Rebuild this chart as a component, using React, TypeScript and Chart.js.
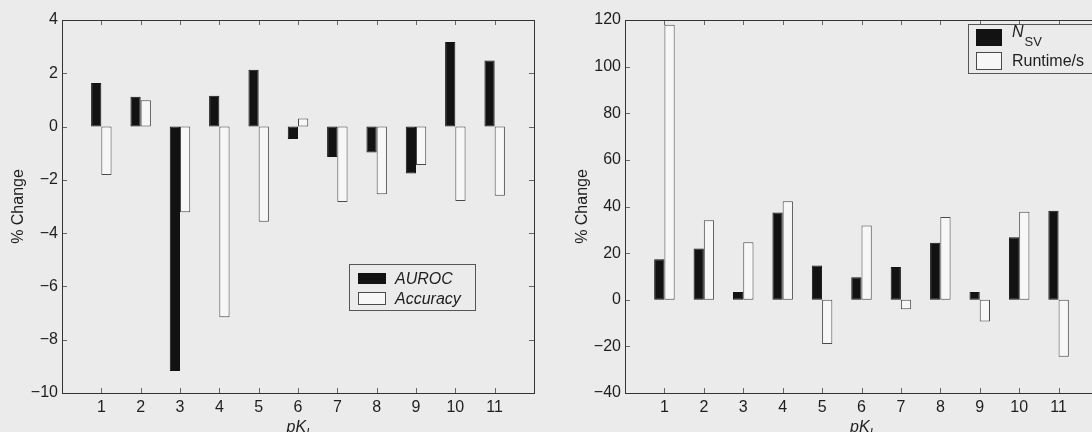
import React, { useEffect, useRef } from 'react';
import { Chart, registerables } from 'chart.js';

Chart.register(...registerables);

// ---- data ----
const categories = [1, 2, 3, 4, 5, 6, 7, 8, 9, 10, 11];
const aurocChange = [1.64, 1.12, -9.17, 1.16, 2.13, -0.47, -1.14, -0.97, -1.76, 3.17, 2.48];
const accuracyChange = [-1.82, 0.99, -3.22, -7.16, -3.57, 0.3, -2.83, -2.54, -1.44, -2.79, -2.6];
const nsvChange = [17.4, 22.0, 3.3, 37.4, 14.7, 9.6, 14.1, 24.4, 3.3, 26.8, 38.2];
const runtimeChange = [118.0, 34.1, 24.7, 42.2, -19.0, 31.8, -4.1, 35.5, -9.3, 37.8, -24.4];
const leftYTicks = [-10, -8, -6, -4, -2, 0, 2, 4];
const rightYTicks = [-40, -20, 0, 20, 40, 60, 80, 100, 120];
const xTickLabels = ['1', '2', '3', '4', '5', '6', '7', '8', '9', '10', '11'];

const FONT = "'Liberation Sans', Arial, Helvetica, sans-serif";
const BG = '#ebebeb';
const TEXT = '#1e1e1e';

type LegendEntry = {
  label: string;
  sub?: string;
  italic: boolean;
  fill: string;
  stroke: string;
  sx: number; sy: number; sw: number; sh: number;
  tx: number; ty: number;
};

type PanelCfg = {
  left: number;
  width: number;
  plotLeft: number;
  plotRight: number;
  yTicks: number[];
  yTitleX: number;
  seriesA: number[];
  seriesB: number[];
  nameA: string;
  nameB: string;
  legendBox: { x: number; y: number; w: number; h: number };
  legend: LegendEntry[];
};

function makePlugin(cfg: PanelCfg) {
  return {
    id: 'matlabFrame',
    afterDraw(chart: any) {
      const { ctx, chartArea: a, scales } = chart;
      const xs = scales.x;
      const ys = scales.y;
      ctx.save();
      // inward tick marks
      ctx.strokeStyle = '#666';
      ctx.lineWidth = 1;
      ctx.beginPath();
      xs.ticks.forEach((t: any) => {
        const px = Math.round(xs.getPixelForValue(t.value)) + 0.5;
        ctx.moveTo(px, a.bottom);
        ctx.lineTo(px, a.bottom - 5);
        ctx.moveTo(px, a.top);
        ctx.lineTo(px, a.top + 5);
      });
      ys.ticks.forEach((t: any) => {
        const py = Math.round(ys.getPixelForValue(t.value)) + 0.5;
        ctx.moveTo(a.left, py);
        ctx.lineTo(a.left + 5, py);
        ctx.moveTo(a.right, py);
        ctx.lineTo(a.right - 5, py);
      });
      ctx.stroke();
      // frame
      ctx.strokeStyle = '#333';
      ctx.strokeRect(a.left + 0.5, a.top + 0.5, a.right - a.left, a.bottom - a.top);

      ctx.fillStyle = TEXT;
      // y title
      ctx.save();
      ctx.translate(cfg.yTitleX, (a.top + a.bottom) / 2);
      ctx.rotate(-Math.PI / 2);
      ctx.font = `16px ${FONT}`;
      ctx.textAlign = 'center';
      ctx.textBaseline = 'middle';
      ctx.fillText('% Change', 0, 0);
      ctx.restore();

      // x title pK_I
      ctx.textAlign = 'left';
      ctx.textBaseline = 'alphabetic';
      ctx.font = `italic 16px ${FONT}`;
      const w1 = ctx.measureText('pK').width;
      ctx.font = `italic 12px ${FONT}`;
      const w2 = ctx.measureText('I').width;
      const x0 = (a.left + a.right) / 2 - (w1 + w2) / 2;
      ctx.font = `italic 16px ${FONT}`;
      ctx.fillText('pK', x0, 432);
      ctx.font = `italic 12px ${FONT}`;
      ctx.fillText('I', x0 + w1, 437);

      // legend
      const b = cfg.legendBox;
      ctx.fillStyle = BG;
      ctx.fillRect(b.x, b.y, b.w, b.h);
      ctx.strokeStyle = '#555';
      ctx.strokeRect(b.x + 0.5, b.y + 0.5, b.w, b.h);
      cfg.legend.forEach((e) => {
        ctx.fillStyle = e.fill;
        ctx.fillRect(e.sx, e.sy, e.sw, e.sh);
        ctx.strokeStyle = e.stroke;
        ctx.strokeRect(e.sx + 0.5, e.sy + 0.5, e.sw - 1, e.sh - 1);
        ctx.fillStyle = TEXT;
        ctx.font = `${e.italic ? 'italic ' : ''}16px ${FONT}`;
        ctx.fillText(e.label, e.tx, e.ty);
        if (e.sub) {
          const lw = ctx.measureText(e.label).width;
          ctx.font = `13px ${FONT}`;
          ctx.fillText(e.sub, e.tx + lw + 1, e.ty + 9);
        }
      });
      ctx.restore();
    },
  };
}

function Panel({ cfg }: { cfg: PanelCfg }) {
  const ref = useRef<HTMLCanvasElement>(null);
  useEffect(() => {
    const canvas = ref.current;
    if (!canvas) return;
    const yMin = cfg.yTicks[0];
    const yMax = cfg.yTicks[cfg.yTicks.length - 1];
    const chart = new Chart(canvas, {
      type: 'bar',
      data: {
        datasets: [
          {
            label: cfg.nameA,
            data: categories.map((c, i) => ({ x: c, y: cfg.seriesA[i] })),
            backgroundColor: '#121212',
            borderColor: '#121212',
            borderWidth: 1,
            borderSkipped: false,
            categoryPercentage: 0.52,
            barPercentage: 1,
          },
          {
            label: cfg.nameB,
            data: categories.map((c, i) => ({ x: c, y: cfg.seriesB[i] })),
            backgroundColor: '#f7f7f7',
            borderColor: '#4a4a4a',
            borderWidth: 1,
            borderSkipped: false,
            categoryPercentage: 0.52,
            barPercentage: 1,
          },
        ],
      } as any,
      options: {
        responsive: false,
        animation: false,
        layout: { padding: { left: 0, right: cfg.width - cfg.plotRight, top: 20, bottom: 0 } },
        plugins: { legend: { display: false }, tooltip: { enabled: false }, title: { display: false } },
        scales: {
          x: {
            type: 'linear',
            min: 0,
            max: 12,
            offset: false,
            grid: { display: false, drawTicks: false },
            border: { display: false },
            afterBuildTicks: (s: any) => {
              s.ticks = categories.map((v) => ({ value: v }));
            },
            ticks: {
              autoSkip: false,
              maxRotation: 0,
              padding: 5,
              color: TEXT,
              font: { family: FONT, size: 16 },
              callback: (v: any) => {
                const idx = categories.indexOf(Number(v));
                return idx >= 0 ? xTickLabels[idx] : '';
              },
            },
            afterFit: (s: any) => {
              s.height = 432 - 393;
            },
          },
          y: {
            type: 'linear',
            min: yMin,
            max: yMax,
            grid: { display: false, drawTicks: false },
            border: { display: false },
            afterBuildTicks: (s: any) => {
              s.ticks = cfg.yTicks.map((v) => ({ value: v }));
            },
            ticks: {
              padding: 4,
              color: TEXT,
              font: { family: FONT, size: 16 },
              callback: (v: any) => String(v).replace('-', '\u2212'),
            },
            afterFit: (s: any) => {
              s.width = cfg.plotLeft;
            },
          },
        } as any,
      },
      plugins: [makePlugin(cfg)],
    } as any);
    return () => chart.destroy();
  }, [cfg]);
  return (
    <canvas
      ref={ref}
      width={cfg.width}
      height={432}
      style={{ position: 'absolute', left: cfg.left, top: 0, width: cfg.width, height: 432 }}
    />
  );
}

const leftCfg: PanelCfg = {
  left: 0,
  width: 546,
  plotLeft: 62,
  plotRight: 534,
  yTicks: leftYTicks,
  yTitleX: 19,
  seriesA: aurocChange,
  seriesB: accuracyChange,
  nameA: 'AUROC',
  nameB: 'Accuracy',
  legendBox: { x: 349, y: 264, w: 126, h: 46 },
  legend: [
    { label: 'AUROC', italic: true, fill: '#121212', stroke: '#121212', sx: 358, sy: 273, sw: 28, sh: 11, tx: 395, ty: 284 },
    { label: 'Accuracy', italic: true, fill: '#f7f7f7', stroke: '#4a4a4a', sx: 358, sy: 292, sw: 28, sh: 13, tx: 395, ty: 304 },
  ],
};

const rightCfg: PanelCfg = {
  left: 546,
  width: 560,
  plotLeft: 79,
  plotRight: 552,
  yTicks: rightYTicks,
  yTitleX: 37,
  seriesA: nsvChange,
  seriesB: runtimeChange,
  nameA: 'NSV',
  nameB: 'Runtime/s',
  legendBox: { x: 422, y: 24, w: 140, h: 49 },
  legend: [
    { label: 'N', sub: 'SV', italic: true, fill: '#121212', stroke: '#121212', sx: 430, sy: 29, sw: 26, sh: 17, tx: 466, ty: 37 },
    { label: 'Runtime/s', italic: false, fill: '#f7f7f7', stroke: '#4a4a4a', sx: 430, sy: 52, sw: 26, sh: 18, tx: 466, ty: 66 },
  ],
};

export default function App() {
  useEffect(() => {
    document.body.style.margin = '0';
    document.body.style.background = BG;
    document.body.style.overflow = 'hidden';
  }, []);
  return (
    <div style={{ position: 'relative', width: 1092, height: 432, overflow: 'hidden', background: BG }}>
      <Panel cfg={leftCfg} />
      <Panel cfg={rightCfg} />
    </div>
  );
}
